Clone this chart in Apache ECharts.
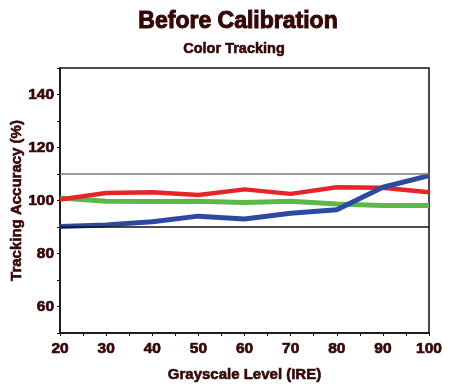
<!DOCTYPE html>
<html><head><meta charset="utf-8">
<script src="https://cdn.jsdelivr.net/npm/echarts@6/dist/echarts.min.js"></script>
<style>html,body{margin:0;padding:0;background:#fff}#c{width:450px;height:386px}</style>
</head><body><div id="c"></div>
<script>
const ire = [20, 30, 40, 50, 60, 70, 80, 90, 100];
const red = [100.4, 102.8, 103.1, 102.1, 104.2, 102.5, 105.0, 104.8, 103.1];
const green = [100.9, 99.7, 99.6, 99.7, 99.2, 99.7, 98.7, 98.1, 98.1];
const blue = [90.2, 90.8, 92.0, 94.1, 93.0, 95.2, 96.5, 105.0, 109.4];
const refUpper = 110;
const refLower = 90;
const yLabels = [60, 80, 100, 120, 140];
const xLabels = [20, 30, 40, 50, 60, 70, 80, 90, 100];

const txt = '#350808';
const font = '"Liberation Sans", Arial, sans-serif';
function heavy(size, w){ return {fontFamily:font, fontWeight:'bold', fontSize:size, color:txt, textBorderColor:txt, textBorderWidth:w}; }
function pairs(vals){ return ire.map((x,i)=>[x, vals[i]]); }

const chart = echarts.init(document.getElementById('c'), null, {renderer:'canvas'});
chart.setOption({
  animation: false,
  title: [
    {text:'Before Calibration', left:233, top:5, textAlign:'center', textStyle:heavy(23, 1)},
    {text:'Color Tracking', left:229, top:36, textAlign:'center', textStyle:heavy(14.5, 0.6)}
  ],
  grid: {left:60, right:21, top:68, bottom:53, containLabel:false, outerBoundsMode:'none',
         show:true, borderColor:'#111', borderWidth:1.5, backgroundColor:'transparent'},
  xAxis: {
    type:'value', min:20, max:100, interval:5,
    axisLine:{show:true, lineStyle:{color:'#111', width:1.5}},
    axisTick:{show:true, length:3, lineStyle:{color:'#111'}},
    splitLine:{show:false},
    axisLabel:Object.assign(heavy(15.5, 0.7), {margin:8,
      formatter:v=> xLabels.includes(v) ? String(v) : ''}),
    name:'Grayscale Level (IRE)', nameLocation:'middle', nameGap:34, nameMoveOverlap:false,
    nameTextStyle:heavy(15, 0.6)
  },
  yAxis: {
    type:'value', min:50, max:150, interval:10,
    axisLine:{show:true, lineStyle:{color:'#111', width:1.5}},
    axisTick:{show:true, length:3, lineStyle:{color:'#111'}},
    splitLine:{show:false},
    axisLabel:Object.assign(heavy(15.5, 0.7), {margin:6,
      formatter:v=> yLabels.includes(v) ? String(v) : ''}),
    name:'Tracking Accuracy (%)', nameLocation:'middle', nameGap:36, nameMoveOverlap:false,
    nameTextStyle:heavy(15, 0.6)
  },
  series: [
    {type:'line', data:pairs(red), symbol:'none', lineStyle:{color:'#e8242b', width:4.5}, z:3,
     markLine:{silent:true, symbol:['none','none'], label:{show:false},
       data:[{yAxis:refUpper, lineStyle:{color:'#777', width:1.5, type:'solid'}},
             {yAxis:refLower, lineStyle:{color:'#111', width:1.5, type:'solid'}}]}},
    {type:'line', data:pairs(green), symbol:'none', lineStyle:{color:'#5ab948', width:5}, z:2},
    {type:'line', data:pairs(blue), symbol:'none', lineStyle:{color:'#2e49a2', width:5}, z:4}
  ]
});
</script></body></html>
